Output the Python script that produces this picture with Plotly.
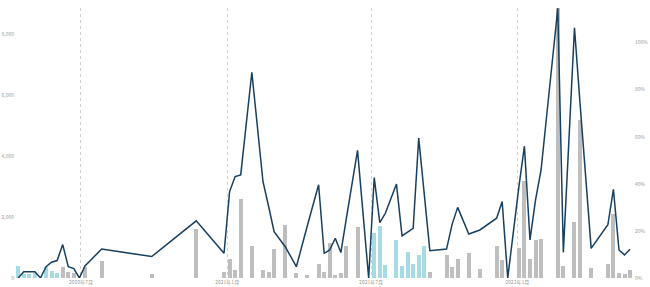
import plotly.graph_objects as go
import pandas as pd

dates = [
    "2020-04-13", "2020-04-20", "2020-04-27", "2020-05-04", "2020-05-11", "2020-05-18",
    "2020-05-25", "2020-06-01", "2020-06-08", "2020-06-15", "2020-06-22", "2020-06-29",
    "2020-07-06", "2020-07-27", "2020-09-28", "2020-11-23", "2020-12-28", "2021-01-04",
    "2021-01-11", "2021-01-18", "2021-02-01", "2021-02-15", "2021-02-22", "2021-03-01",
    "2021-03-15", "2021-03-29", "2021-04-12", "2021-04-26", "2021-05-03", "2021-05-10",
    "2021-05-17", "2021-05-24", "2021-05-31", "2021-06-14", "2021-06-28", "2021-07-05",
    "2021-07-12", "2021-07-19", "2021-08-02", "2021-08-09", "2021-08-16", "2021-08-23",
    "2021-08-30", "2021-09-06", "2021-09-13", "2021-10-04", "2021-10-11", "2021-10-18",
    "2021-11-01", "2021-11-15", "2021-12-06", "2021-12-13", "2021-12-20", "2022-01-03",
    "2022-01-10", "2022-01-17", "2022-01-24", "2022-01-31", "2022-02-21", "2022-02-28",
    "2022-03-14", "2022-03-21", "2022-04-04", "2022-04-25", "2022-05-02", "2022-05-09",
    "2022-05-16", "2022-05-23",
]

bar_values = [
    400, 120, 130, 150, 0, 370,
    240, 150, 350, 210, 175, 0,
    370, 560, 130, 1600, 200, 620,
    260, 2580, 1050, 250, 200, 940,
    1750, 150, 100, 460, 200, 1160,
    90, 150, 1050, 1660, 0, 1470,
    1700, 440, 1240, 390, 840, 460,
    760, 1050, 190, 750, 350, 620,
    830, 300, 1040, 590, 0, 975,
    3180, 610, 1250, 1290, 8850, 400,
    1850, 5180, 340, 460, 2100, 150,
    130, 260,
]

highlight = [
    1, 1, 1, 1, 0, 1,
    1, 1, 0, 0, 0, 0,
    0, 0, 0, 0, 0, 0,
    0, 0, 0, 0, 0, 0,
    0, 0, 0, 0, 0, 0,
    0, 0, 0, 0, 0, 1,
    1, 1, 1, 1, 1, 1,
    1, 1, 0, 0, 0, 0,
    0, 0, 0, 0, 0, 0,
    0, 0, 0, 0, 0, 0,
    0, 0, 0, 0, 0, 0,
    0, 0,
]

line_pct = [
    0, 2.7, 2.7, 2.7, 0, 4.8,
    6.7, 7.4, 14.2, 4.8, 4.0, 0,
    5.1, 12.3, 9.1, 24.3, 10.5, 36.7,
    43.1, 43.8, 87.4, 41.0, 30.6, 19.7,
    13.3, 4.8, 22.4, 39.6, 10.5, 11.9,
    16.9, 10.8, 25.4, 54.2, 0, 42.7,
    23.5, 27.5, 39.9, 17.9, 19.5, 21.1,
    59.4, 36.3, 11.6, 12.3, 22.8, 30.0,
    18.7, 20.4, 25.4, 32.5, 0, 38.6,
    56.0, 16.2, 33.2, 46.0, 114.6, 10.9,
    106.3, 74.2, 12.6, 22.6, 37.7, 11.9,
    9.8, 12.2,
]

tick_dates = ["2020-07-01", "2021-01-01", "2021-07-01", "2022-01-01"]
tick_labels = ["2020年7月", "2021年1月", "2021年7月", "2022年1月"]
left_ticks = [0, 2000, 4000, 6000, 8000]
left_labels = ["0", "2,000", "4,000", "6,000", "8,000"]
right_ticks = [0, 20, 40, 60, 80, 100]
right_labels = ["0%", "20%", "40%", "60%", "80%", "100%"]

BLUE = "#a6dbe4"
GRAY = "#bebebe"
bar_colors = [BLUE if h else GRAY for h in highlight]

fig = go.Figure()
fig.add_trace(go.Bar(
    x=dates, y=bar_values, marker=dict(color=bar_colors, line=dict(width=0)),
    width=5 * 24 * 3600 * 1000, yaxis="y", showlegend=False,
))
fig.add_trace(go.Scatter(
    x=dates, y=line_pct, mode="lines", line=dict(color="#173f5f", width=1.5),
    yaxis="y2", showlegend=False,
))

x0 = pd.Timestamp("2020-07-01") + pd.Timedelta(days=-84.3)
x1 = pd.Timestamp("2020-07-01") + pd.Timedelta(days=695.9)

tickfont = dict(family="Noto Sans CJK SC, Noto Sans", size=5, color="#9a9a9a")

fig.update_layout(
    width=650, height=287,
    margin=dict(l=14, r=16, t=8, b=9, autoexpand=False),
    paper_bgcolor="white", plot_bgcolor="white",
    bargap=0,
    xaxis=dict(
        type="date", range=[x0, x1], automargin=False,
        tickmode="array", tickvals=tick_dates, ticktext=tick_labels, tickfont=tickfont,
        showgrid=True, gridcolor="#d0d0d0", griddash="dot", gridwidth=1,
        showline=False, zeroline=False, ticks="", ticklen=0,
    ),
    yaxis=dict(
        range=[0, 8857], tickmode="array", tickvals=left_ticks, ticktext=left_labels,
        automargin=False, tickfont=tickfont, showgrid=False, zeroline=False,
        showline=False, ticks="", ticklabelstandoff=-1,
    ),
    yaxis2=dict(
        range=[0, 114.7], overlaying="y", side="right", automargin=False,
        tickmode="array", tickvals=right_ticks, ticktext=right_labels, tickfont=tickfont,
        showgrid=False, zeroline=False, showline=False, ticks="",
    ),
)

fig.write_html("out.html")
